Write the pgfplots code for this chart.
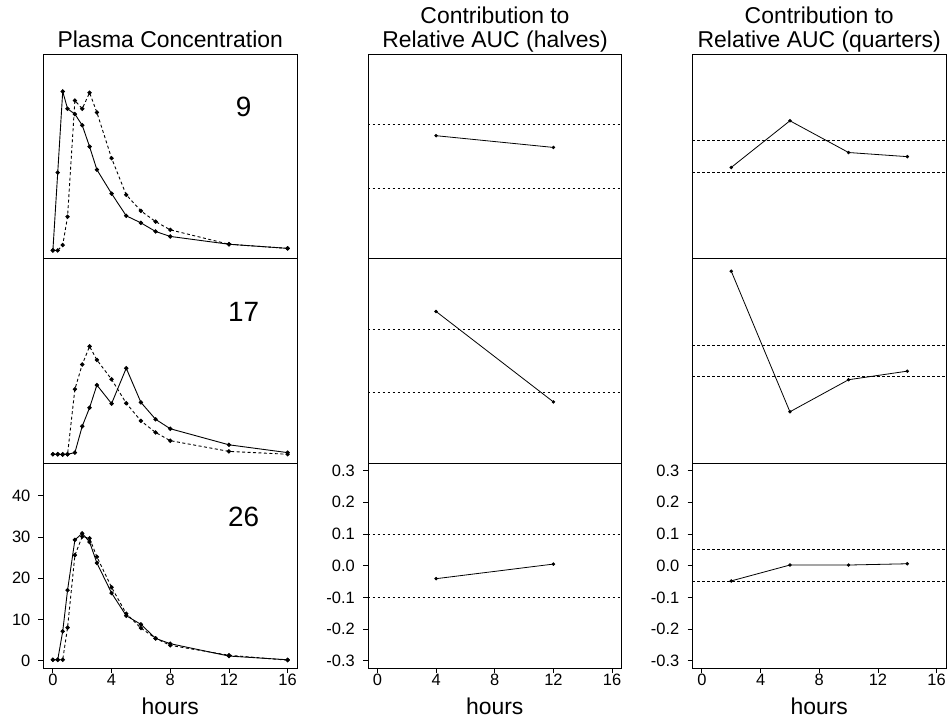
\documentclass[border=0pt]{standalone}
\usepackage{fontspec}
\setmainfont{Liberation Sans}
\usepackage{pgfplots}
\pgfplotsset{compat=1.18}
\tikzset{num/.style={font=\fontsize{28}{30}\selectfont}}
\begin{document}
\begin{tikzpicture}
\path[use as bounding box] (0bp,0bp) rectangle (948bp,724bp);
\pgfplotsset{
 panel/.style={scale only axis, width=253.5bp, height=204.67bp, anchor=south west,
   xmin=-0.64, xmax=16.64, axis line style={line width=0.9bp},
   tick style={line width=0.8bp, black}, tick align=outside, major tick length=5bp,
   xtick=\empty, ytick=\empty, xtick pos=bottom, ytick pos=left,
   tick label style={font=\fontsize{16.5}{18}\selectfont},
   /pgf/number format/assume math mode=true,
   xticklabel style={inner sep=0pt, yshift=-1bp},
   yticklabel style={inner sep=0pt, xshift=-8bp},
   label style={font=\fontsize{23}{26}\selectfont},
   xlabel style={at={(axis description cs:0.5,0)}, anchor=base, yshift=-46bp},
   clip=true},
 conc/.style={panel, ymin=-1.8, ymax=47.9},
 auc/.style={panel, ymin=-0.3224, ymax=0.3224},
 bot/.style={xtick={0,4,8,12,16}, xlabel={hours}},
 botauc/.style={bot, ytick={-0.3,-0.2,-0.1,0,0.1,0.2,0.3},
   yticklabels={-0.3,-0.2,-0.1,0.0,0.1,0.2,0.3}},
 sol/.style={line width=0.9bp, black, mark=*, mark size=1.7bp},
 dot/.style={line width=0.9bp, black, dash pattern=on 3bp off 2.5bp, mark=*, mark size=1.7bp, mark options={solid}},
 ref/.style={line width=0.8bp, black, dash pattern=on 2.5bp off 2.5bp},
 aucl/.style={line width=0.8bp, black, mark=*, mark size=1.3bp}
}
% titles
\node[anchor=base, font=\fontsize{23}{26}\selectfont] at (170.25bp,676.5bp) {Plasma Concentration};
\node[anchor=base, font=\fontsize{23}{26}\selectfont] at (495bp,700.5bp) {Contribution to};
\node[anchor=base, font=\fontsize{23}{26}\selectfont] at (495bp,676.5bp) {Relative AUC (halves)};
\node[anchor=base, font=\fontsize{23}{26}\selectfont] at (819.25bp,700.5bp) {Contribution to};
\node[anchor=base, font=\fontsize{23}{26}\selectfont] at (819.25bp,676.5bp) {Relative AUC (quarters)};

% ---------- Row 1 (subject 9) ----------
\begin{axis}[conc, at={(43.5bp,465.33bp)}]
\addplot[sol] coordinates {(0,0.2)(0.33,19.1)(0.67,38.8)(1,34.6)(1.5,33.3)(2,30.6)(2.5,25.4)(3,19.8)(4,14.0)(5,8.6)(6,6.9)(7,4.8)(8,3.6)(12,1.7)(16,0.7)};
\addplot[dot] coordinates {(0,0.2)(0.33,0.2)(0.67,1.5)(1,8.4)(1.5,36.6)(2,34.6)(2.5,38.5)(3,33.7)(4,22.6)(5,13.7)(6,9.8)(7,7.2)(8,5.2)(12,1.7)(16,0.7)};
\node[num] at (axis cs:13,35) {9};
\end{axis}
\begin{axis}[auc, at={(368bp,465.33bp)}]
\addplot[ref] coordinates {(-1,0.1)(17,0.1)};
\addplot[ref] coordinates {(-1,-0.1)(17,-0.1)};
\addplot[aucl] coordinates {(4,0.065)(12,0.028)};
\end{axis}
\begin{axis}[auc, at={(692.5bp,465.33bp)}]
\addplot[ref] coordinates {(-1,0.05)(17,0.05)};
\addplot[ref] coordinates {(-1,-0.05)(17,-0.05)};
\addplot[aucl] coordinates {(2,-0.035)(6,0.112)(10,0.012)(14,-0.001)};
\end{axis}

% ---------- Row 2 (subject 17) ----------
\begin{axis}[conc, at={(43.5bp,260.67bp)}]
\addplot[sol] coordinates {(0,0.4)(0.33,0.4)(0.67,0.4)(1,0.4)(1.5,0.8)(2,7.2)(2.5,11.7)(3,17.2)(4,12.7)(5,21.3)(6,13.0)(7,8.9)(8,6.6)(12,2.7)(16,0.8)};
\addplot[dot] coordinates {(0,0.4)(0.33,0.4)(0.67,0.3)(1,0.4)(1.5,16.2)(2,22.2)(2.5,26.6)(3,23.3)(4,18.6)(5,12.8)(6,8.5)(7,5.7)(8,3.7)(12,1.1)(16,0.4)};
\node[num] at (axis cs:13,35) {17};
\end{axis}
\begin{axis}[auc, at={(368bp,260.67bp)}]
\addplot[ref] coordinates {(-1,0.1)(17,0.1)};
\addplot[ref] coordinates {(-1,-0.1)(17,-0.1)};
\addplot[aucl] coordinates {(4,0.156)(12,-0.129)};
\end{axis}
\begin{axis}[auc, at={(692.5bp,260.67bp)}]
\addplot[ref] coordinates {(-1,0.05)(17,0.05)};
\addplot[ref] coordinates {(-1,-0.05)(17,-0.05)};
\addplot[aucl] coordinates {(2,0.283)(6,-0.160)(10,-0.059)(14,-0.032)};
\end{axis}

% ---------- Row 3 (subject 26) ----------
\begin{axis}[conc, bot, at={(43.5bp,56bp)}, ytick={0,10,20,30,40}]
\addplot[sol] coordinates {(0,0.2)(0.33,0.2)(0.67,7.1)(1,17.1)(1.5,29.3)(2,30.9)(2.5,28.8)(3,23.7)(4,16.4)(5,10.9)(6,8.8)(7,5.4)(8,4.1)(12,1.1)(16,0.2)};
\addplot[dot] coordinates {(0,0.2)(0.33,0.2)(0.67,0.2)(1,8.0)(1.5,25.6)(2,30.1)(2.5,29.7)(3,25.2)(4,17.8)(5,11.4)(6,7.9)(7,5.4)(8,3.7)(12,1.3)(16,0.1)};
\node[num] at (axis cs:13,35) {26};
\end{axis}
\begin{axis}[auc, botauc, at={(368bp,56bp)}]
\addplot[ref] coordinates {(-1,0.1)(17,0.1)};
\addplot[ref] coordinates {(-1,-0.1)(17,-0.1)};
\addplot[aucl] coordinates {(4,-0.041)(12,0.005)};
\end{axis}
\begin{axis}[auc, botauc, at={(692.5bp,56bp)}]
\addplot[ref] coordinates {(-1,0.05)(17,0.05)};
\addplot[ref] coordinates {(-1,-0.05)(17,-0.05)};
\addplot[aucl] coordinates {(2,-0.048)(6,0.002)(10,0.002)(14,0.006)};
\end{axis}
\end{tikzpicture}
\end{document}
